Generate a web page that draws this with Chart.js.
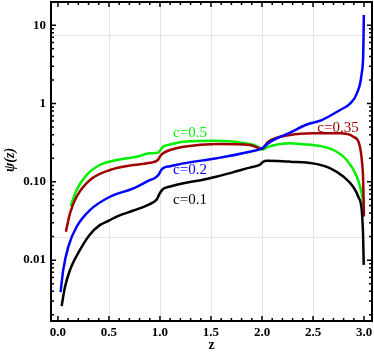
<!DOCTYPE html>
<html>
<head>
<meta charset="utf-8">
<script src="https://cdn.jsdelivr.net/npm/chart.js@4"></script>
<style>
  html, body { margin: 0; padding: 0; background: #fff; }
  #psiChart { display: block; }
</style>
</head>
<body>
<canvas id="psiChart" width="374" height="358"></canvas>
<script>
// Curve data (z, psi(z)) for each c
const zC01 = [0.036, 0.07, 0.12, 0.22, 0.31, 0.41, 0.5, 0.575, 0.74, 0.9, 0.97, 1.0, 1.03, 1.1, 1.23, 1.4, 1.56, 1.72, 1.88, 1.95, 1.985, 2.01, 2.05, 2.15, 2.275, 2.5, 2.67, 2.8, 2.895, 2.945, 2.977, 2.99, 2.997];
const psiC01 = [0.0026, 0.0046, 0.0076, 0.0138, 0.021, 0.028, 0.032, 0.036, 0.043, 0.052, 0.060, 0.072, 0.081, 0.087, 0.096, 0.105, 0.117, 0.133, 0.152, 0.16, 0.168, 0.18, 0.186, 0.185, 0.181, 0.172, 0.149, 0.116, 0.086, 0.064, 0.044, 0.022, 0.0087];

const zC02 = [0.026, 0.052, 0.101, 0.183, 0.314, 0.51, 0.74, 0.9, 0.95, 0.99, 1.01, 1.04, 1.1, 1.23, 1.556, 1.88, 2.0, 2.06, 2.11, 2.26, 2.44, 2.585, 2.765, 2.863, 2.93, 2.977, 2.993, 2.998];
const psiC02 = [0.0039, 0.0075, 0.0148, 0.0267, 0.0436, 0.0645, 0.0826, 0.105, 0.112, 0.125, 0.14, 0.152, 0.158, 0.172, 0.2, 0.242, 0.268, 0.31, 0.34, 0.416, 0.54, 0.615, 0.826, 1.0, 1.35, 2.43, 4.8, 13.5];

const zC035 = [0.078, 0.118, 0.183, 0.314, 0.51, 0.74, 0.9, 0.98, 1.0, 1.03, 1.1, 1.23, 1.556, 1.88, 2.0, 2.06, 2.275, 2.5, 2.765, 2.895, 2.96, 2.98, 2.99, 2.996, 2.999];
const psiC035 = [0.0231, 0.0396, 0.0645, 0.1055, 0.1415, 0.164, 0.175, 0.19, 0.21, 0.231, 0.255, 0.28, 0.304, 0.295, 0.265, 0.325, 0.396, 0.416, 0.416, 0.377, 0.28, 0.18, 0.12, 0.06, 0.036];

const zC05 = [0.125, 0.183, 0.28, 0.41, 0.575, 0.77, 0.9, 0.98, 1.0, 1.03, 1.1, 1.23, 1.556, 1.88, 1.95, 2.0, 2.06, 2.275, 2.42, 2.5, 2.7, 2.83, 2.93, 2.977, 2.998];
const psiC05 = [0.049, 0.0785, 0.122, 0.164, 0.19, 0.209, 0.231, 0.235, 0.25, 0.28, 0.30, 0.325, 0.335, 0.304, 0.285, 0.258, 0.28, 0.31, 0.30, 0.295, 0.255, 0.19, 0.116, 0.071, 0.05];

// Axis ticks and grid
const xTicks = [0, 0.5, 1, 1.5, 2, 2.5, 3];
const yTicks = [0.01, 0.1, 1, 10];
const yTickLabels = ['0.01', '0.10', '1', '10'];
const xGrid = [0.5, 1, 1.5, 2, 2.5];
const yGrid = [0.0195, 7.4];

// Curve labels: text, z, psi
const curveLabels = [
  { text: 'c=0.5', z: 1.294, psi: 0.42, color: '#00ee00' },
  { text: 'c=0.2', z: 1.294, psi: 0.141, color: '#0000ff' },
  { text: 'c=0.1', z: 1.294, psi: 0.0586, color: '#000000' },
  { text: 'c=0.35', z: 2.745, psi: 0.486, color: '#a00000' }
];

const serif = '"Liberation Serif", "DejaVu Serif", serif';

function toPoints(zs, ps) {
  return zs.map((z, i) => ({ x: z, y: ps[i] }));
}

function series(label, zs, ps, color) {
  return {
    label: label,
    data: toPoints(zs, ps),
    borderColor: color,
    borderWidth: 2.5,
    pointRadius: 0,
    fill: false,
    cubicInterpolationMode: 'monotone'
  };
}

const frameAndTicks = {
  id: 'frameAndTicks',
  beforeDatasetsDraw(chart) {
    const { ctx, chartArea: a, scales: { x, y } } = chart;
    ctx.save();
    ctx.strokeStyle = '#e4e4e4';
    ctx.lineWidth = 1;
    xGrid.forEach(v => {
      const px = Math.round(x.getPixelForValue(v)) + 0.5;
      ctx.beginPath(); ctx.moveTo(px, a.top); ctx.lineTo(px, a.bottom); ctx.stroke();
    });
    yGrid.forEach(v => {
      const py = Math.round(y.getPixelForValue(v)) + 0.5;
      ctx.beginPath(); ctx.moveTo(a.left, py); ctx.lineTo(a.right, py); ctx.stroke();
    });
    ctx.restore();
  },
  afterDatasetsDraw(chart) {
    const { ctx, chartArea: a, scales: { x, y } } = chart;
    ctx.save();
    ctx.strokeStyle = '#000';
    ctx.lineWidth = 1.5;
    // x ticks, major every 0.5 and minor every 0.1, top and bottom
    for (let i = 0; i <= 30; i++) {
      const v = i / 10;
      const px = x.getPixelForValue(v);
      const len = i % 5 === 0 ? 5 : 3;
      ctx.beginPath();
      ctx.moveTo(px, a.bottom); ctx.lineTo(px, a.bottom - len);
      ctx.moveTo(px, a.top); ctx.lineTo(px, a.top + len);
      ctx.stroke();
    }
    // y ticks, decades and 2..9 minors, left and right
    for (let d = -3; d <= 1; d++) {
      for (let m = 1; m <= 9; m++) {
        const v = m * Math.pow(10, d);
        if (v < y.min || v > y.max) continue;
        const py = y.getPixelForValue(v);
        const len = m === 1 ? 5 : 3;
        ctx.beginPath();
        ctx.moveTo(a.left, py); ctx.lineTo(a.left + len, py);
        ctx.moveTo(a.right, py); ctx.lineTo(a.right - len, py);
        ctx.stroke();
      }
    }
    // frame
    ctx.lineWidth = 2;
    ctx.strokeRect(a.left, a.top, a.right - a.left, a.bottom - a.top);

    // curve labels
    ctx.font = '15px ' + serif;
    ctx.textAlign = 'center';
    ctx.textBaseline = 'middle';
    curveLabels.forEach(l => {
      ctx.fillStyle = l.color;
      ctx.fillText(l.text, x.getPixelForValue(l.z), y.getPixelForValue(l.psi));
    });

    // axis titles
    ctx.fillStyle = '#000';
    ctx.font = 'bold 14px ' + serif;
    ctx.fillText('z', (a.left + a.right) / 2, 345);
    ctx.translate(10, 160);
    ctx.rotate(-Math.PI / 2);
    ctx.font = 'italic bold 14px ' + serif;
    ctx.fillText('ψ(z)', 0, 0);
    ctx.restore();
  }
};

const tickFont = { family: serif, size: 13, weight: 'bold' };

const psiChart = new Chart(document.getElementById('psiChart'), {
  type: 'line',
  data: {
    datasets: [
      series('c=0.1', zC01, psiC01, '#000000'),
      series('c=0.2', zC02, psiC02, '#0000ff'),
      series('c=0.35', zC035, psiC035, '#a00000'),
      series('c=0.5', zC05, psiC05, '#00ee00')
    ]
  },
  options: {
    responsive: false,
    animation: false,
    layout: { padding: { top: 2, right: 2, left: 0, bottom: 0 } },
    plugins: { legend: { display: false }, tooltip: { enabled: false } },
    scales: {
      x: {
        type: 'linear',
        min: -0.068,
        max: 3.078,
        grid: { display: false, drawTicks: false },
        border: { display: false },
        afterBuildTicks: s => { s.ticks = xTicks.map(v => ({ value: v })); },
        afterFit: s => { s.height = 37; s.paddingLeft = 0; s.paddingRight = 0; },
        ticks: {
          font: tickFont, color: '#000', padding: 4, maxRotation: 0, autoSkip: false,
          callback: v => Number(v).toFixed(1)
        }
      },
      y: {
        type: 'logarithmic',
        min: 0.00167,
        max: 19.8,
        grid: { display: false, drawTicks: false },
        border: { display: false },
        afterBuildTicks: s => { s.ticks = yTicks.map(v => ({ value: v })); },
        afterFit: s => { s.width = 51; s.paddingTop = 0; s.paddingBottom = 0; },
        ticks: {
          font: tickFont, color: '#000', padding: 5, autoSkip: false,
          callback: (v, i) => yTickLabels[i]
        }
      }
    }
  },
  plugins: [frameAndTicks]
});
</script>
</body>
</html>
